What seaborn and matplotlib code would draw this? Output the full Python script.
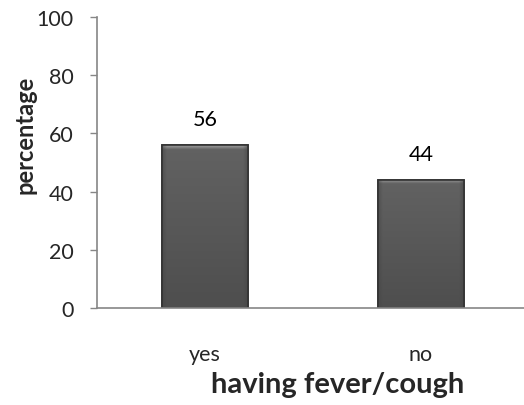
import matplotlib
matplotlib.use("Agg")
import matplotlib.pyplot as plt
import seaborn as sns
import pandas as pd
import numpy as np
from matplotlib.colors import to_rgb
from matplotlib.patches import Rectangle

categories = ["yes", "no"]
values = [56, 44]
yticks = [0, 20, 40, 60, 80, 100]

sns.set_style("white")
plt.rcParams['font.family'] = ['Lato', 'DejaVu Sans']

df = pd.DataFrame({"cat": categories, "val": values})

fig = plt.figure(figsize=(5.24, 4.06), dpi=100)
ax = fig.add_axes([97/524, 97/406, 432/524, 291/406])
sns.barplot(data=df, x="cat", y="val", ax=ax, color="#595959", width=0.395,
            saturation=1, edgecolor="#333333", linewidth=1.2)

ax.set_xlim(-0.5, 1.5)
ax.set_ylim(0, 100)

# bevel-like shading on each bar (decoration only)
light = np.array(to_rgb("#a0a0a0"))
top = np.array(to_rgb("#626262"))
bot = np.array(to_rgb("#4e4e4e"))
side = np.array(to_rgb("#444444"))
for p in list(ax.patches):
    x0, y0 = p.get_x(), p.get_y()
    w, h = p.get_width(), p.get_height()
    ny, nx = 400, 60
    ys = np.linspace(y0 + h, y0, ny)  # top to bottom
    xs = np.linspace(0, 1, nx)
    t = (y0 + h - ys) / h
    col = top[None, :] * (1 - t[:, None]) + bot[None, :] * t[:, None]
    bev = 1.5
    d = (y0 + h - ys)
    m = np.clip(1 - d / bev, 0, 1)[:, None]
    col = col * (1 - m) + light[None, :] * m
    img = np.repeat(col[:, None, :], nx, axis=1)
    sx = np.clip(1 - np.minimum(xs, 1 - xs) / 0.05, 0, 1)[None, :, None]
    img = img * (1 - 0.5 * sx) + side[None, None, :] * 0.5 * sx
    im = ax.imshow(img, extent=[x0, x0 + w, y0, y0 + h], aspect="auto",
                   zorder=p.get_zorder() + 0.1, interpolation="bilinear")
    im.set_clip_path(p)
    ax.add_patch(Rectangle((x0, y0), w, h, fill=False, edgecolor="#333333",
                           linewidth=1.2, zorder=p.get_zorder() + 0.2))

for i, v in enumerate(values):
    ax.text(i, v + 5.5, f"{v}", ha="center", va="bottom", fontsize=15.5, color="black")

ax.set_xlim(-0.5, 1.5)
ax.set_ylim(0, 100)
ax.set_yticks(yticks)
ax.set_yticklabels([str(t) for t in yticks], fontsize=15.5)
ax.set_xticks(range(len(categories)))
ax.set_xticklabels(categories, fontsize=15.5)
ax.set_xticks([-0.5, 0.5, 1.5], minor=True)
ax.tick_params(axis="x", which="major", length=0, pad=26)
ax.tick_params(axis="x", which="minor", length=5, width=1, color="#868686", direction="out")
ax.tick_params(axis="y", length=5, width=1, color="#868686", direction="out", left=True, pad=12)
ax.set_xlabel("having fever/cough", fontsize=21, fontweight="bold")
ax.set_ylabel("percentage", fontsize=17, fontweight="bold")
ax.xaxis.set_label_coords(0.558, -0.262)
ax.xaxis.label.set_va("center")
ax.yaxis.set_label_coords(-0.167, 0.598)
ax.yaxis.label.set_va("center")

for s in ["top", "right"]:
    ax.spines[s].set_visible(False)
for s in ["left", "bottom"]:
    ax.spines[s].set_color("#868686")
    ax.spines[s].set_linewidth(1.2)

fig.savefig("out.png", dpi=100)
